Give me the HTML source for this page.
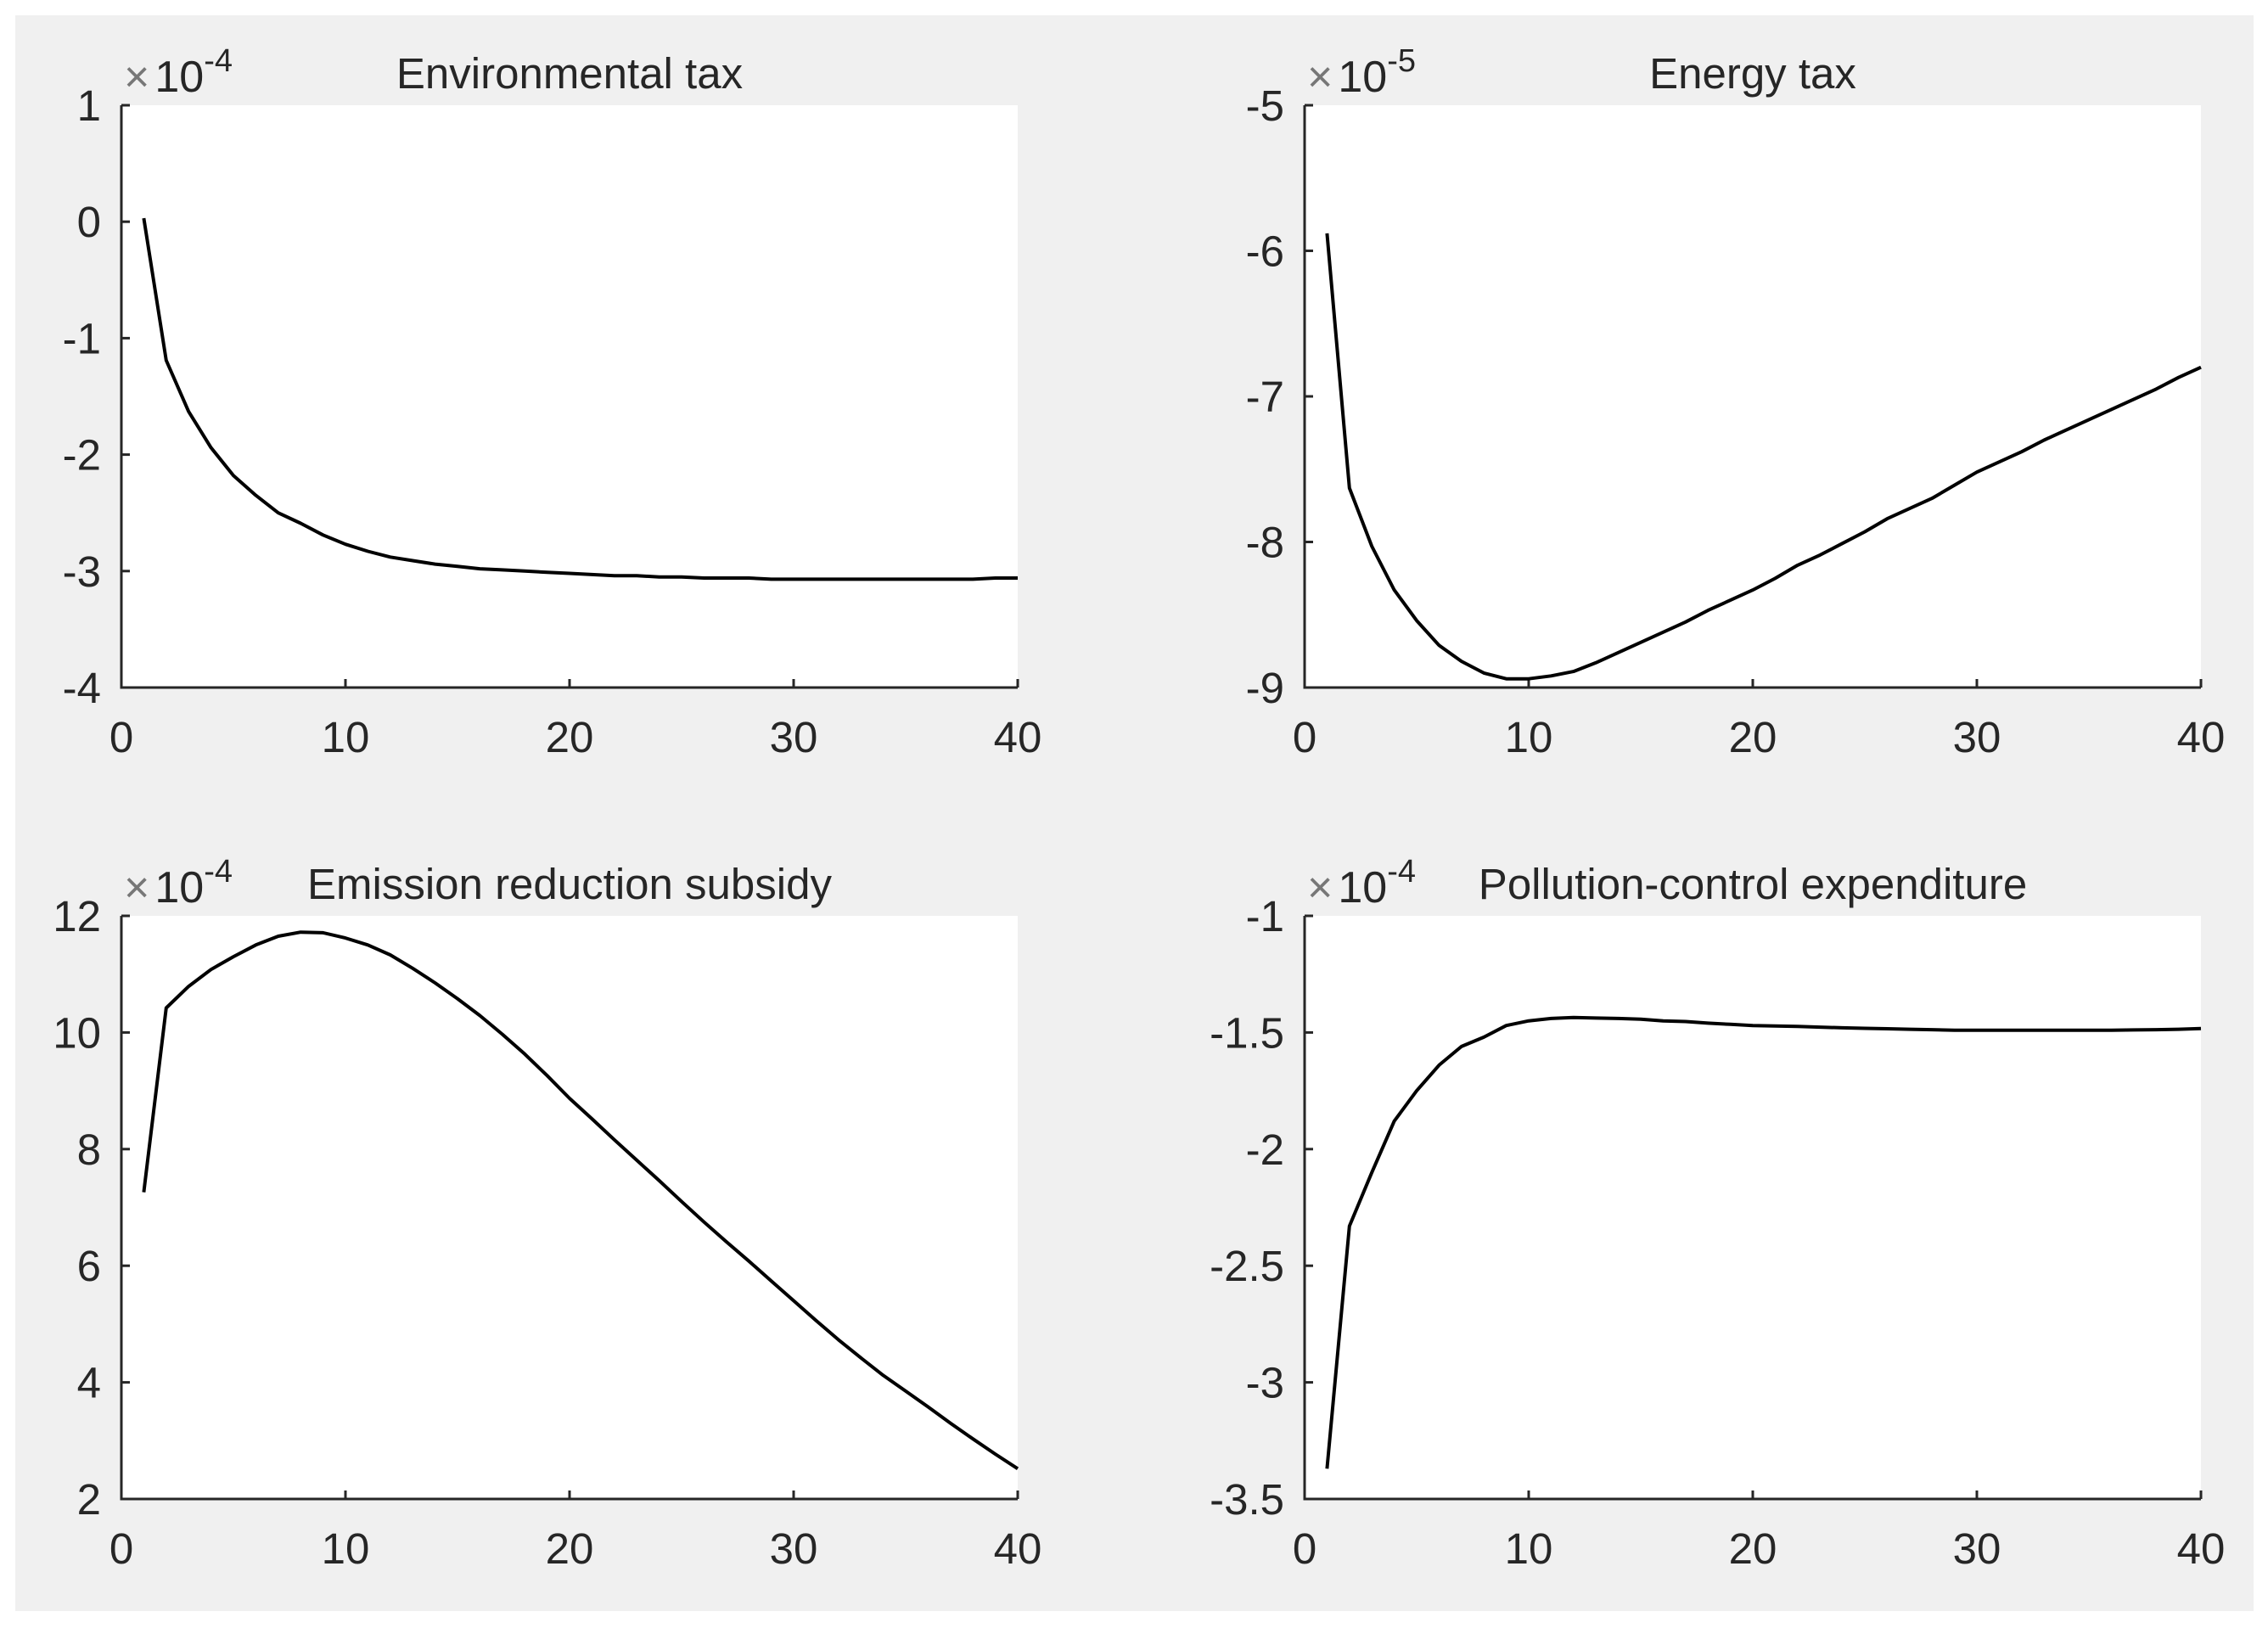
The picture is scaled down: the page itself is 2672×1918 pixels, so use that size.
<!DOCTYPE html>
<html><head><meta charset="utf-8">
<style>
html,body{margin:0;padding:0;background:#fff;}
#fig{position:absolute;left:0;top:0;width:2672px;height:1918px;}
text{font-family:"Liberation Sans",Arial,sans-serif;fill:#262626;}
</style></head>
<body>
<svg id="fig" width="2672" height="1918" viewBox="0 0 2672 1918" xmlns="http://www.w3.org/2000/svg">
<rect x="18" y="18" width="2637" height="1880" fill="#f0f0f0"/>
<g id="root"></g>
</svg>
<script>
const periods = Array.from({length:40},(_,i)=>i+1);
const xTicks = [0,10,20,30,40];

const envTaxValues = [0.03,-1.19,-1.63,-1.94,-2.18,-2.35,-2.50,-2.59,-2.69,-2.77,-2.83,-2.88,-2.91,-2.94,-2.96,-2.98,-2.99,-3.00,-3.01,-3.02,-3.03,-3.04,-3.04,-3.05,-3.05,-3.06,-3.06,-3.06,-3.07,-3.07,-3.07,-3.07,-3.07,-3.07,-3.07,-3.07,-3.07,-3.07,-3.06,-3.06];
const envTaxTicks = [1,0,-1,-2,-3,-4];

const energyTaxValues = [-5.88,-7.63,-8.03,-8.33,-8.54,-8.71,-8.82,-8.90,-8.94,-8.94,-8.92,-8.89,-8.83,-8.76,-8.69,-8.62,-8.55,-8.47,-8.40,-8.33,-8.25,-8.16,-8.09,-8.01,-7.93,-7.84,-7.77,-7.70,-7.61,-7.52,-7.45,-7.38,-7.30,-7.23,-7.16,-7.09,-7.02,-6.95,-6.87,-6.80];
const energyTaxTicks = [-5,-6,-7,-8,-9];

const subsidyValues = [7.26,10.42,10.79,11.08,11.30,11.50,11.65,11.72,11.71,11.62,11.50,11.33,11.10,10.85,10.58,10.29,9.97,9.63,9.26,8.87,8.52,8.16,7.81,7.46,7.10,6.75,6.41,6.08,5.74,5.40,5.06,4.73,4.42,4.12,3.85,3.58,3.30,3.03,2.77,2.52];
const subsidyTicks = [12,10,8,6,4,2];

const pollutionValues = [-3.37,-2.33,-2.10,-1.88,-1.75,-1.64,-1.56,-1.52,-1.47,-1.45,-1.44,-1.436,-1.438,-1.44,-1.443,-1.45,-1.453,-1.46,-1.465,-1.47,-1.472,-1.474,-1.477,-1.48,-1.482,-1.484,-1.486,-1.488,-1.49,-1.49,-1.49,-1.49,-1.49,-1.49,-1.49,-1.49,-1.489,-1.488,-1.486,-1.483];
const pollutionTicks = [-1,-1.5,-2,-2.5,-3,-3.5];

const NS="http://www.w3.org/2000/svg";
const root=document.getElementById('root');
function mk(tag,attrs,parent){const e=document.createElementNS(NS,tag);for(const k in attrs)e.setAttribute(k,attrs[k]);(parent||root).appendChild(e);return e;}

function panel(key,title,L,T,R,B,yMin,yMax,yTicks,vals,expo){
  const g=mk('g',{});
  
  
  const xs=v=>L+(v-0)/(40-0)*(R-L);
  const ys=v=>B-(v-yMin)/(yMax-yMin)*(B-T);
  const bg=mk('rect',{x:L,y:T,width:R-L,height:B-T,fill:'#fff'},g);
  
  
  const ax=mk('path',{d:`M${L} ${T}V${B}H${R}`,stroke:'#262626','stroke-width':3,fill:'none'},g);
  
  
  xTicks.forEach(t=>{
    const x=xs(t);
    const tk=mk('line',{x1:x,y1:B,x2:x,y2:B-10,stroke:'#262626','stroke-width':3},g);
    
    
    const lb=mk('text',{x:x,y:B+76,'font-size':51,'text-anchor':'middle'},g);
    lb.textContent=t;
    
    
  });
  yTicks.forEach(t=>{
    const y=ys(t);
    const tk=mk('line',{x1:L,y1:y,x2:L+10,y2:y,stroke:'#262626','stroke-width':3},g);
    
    
    const lb=mk('text',{x:L-24,y:y+18,'font-size':51,'text-anchor':'end'},g);
    lb.textContent=t;
    
    
  });
  const d=vals.map((v,i)=>(i?'L':'M')+xs(periods[i]).toFixed(1)+' '+ys(v).toFixed(1)).join('');
  const ln=mk('path',{d:d,stroke:'#000','stroke-width':4,fill:'none','stroke-linejoin':'round'},g);
  
  
  const tt=mk('text',{x:(L+R)/2,y:T-20,'font-size':51,'text-anchor':'middle',fill:'#000'},g);
  tt.textContent=title;
  
  
  const ex=mk('text',{x:L+3,y:T-16,'font-size':52},g);
  
  
  const s1=mk('tspan',{fill:'#777'},ex); s1.textContent='\u00d7';
  const s2=mk('tspan',{dx:6},ex); s2.textContent='10';
  const s3=mk('tspan',{dy:-24,'font-size':38},ex); s3.textContent=expo;
}
panel('environmental-tax','Environmental tax',143,124,1199,810,-4,1,envTaxTicks,envTaxValues,'-4');
panel('energy-tax','Energy tax',1537,124,2593,810,-9,-5,energyTaxTicks,energyTaxValues,'-5');
panel('emission-subsidy','Emission reduction subsidy',143,1079,1199,1766,2,12,subsidyTicks,subsidyValues,'-4');
panel('pollution-control','Pollution-control expenditure',1537,1079,2593,1766,-3.5,-1,pollutionTicks,pollutionValues,'-4');
</script>
</body></html>
